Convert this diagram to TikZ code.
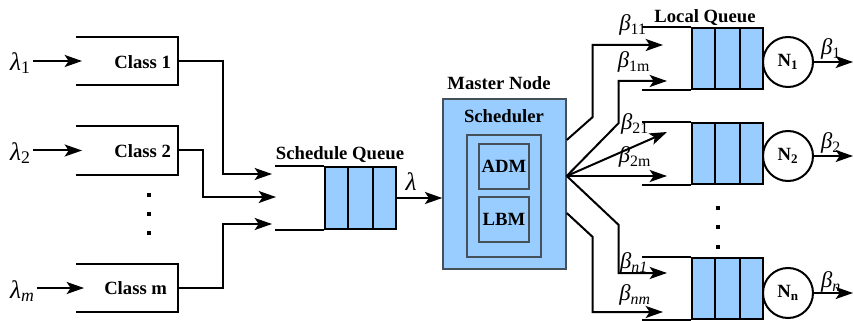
\documentclass[tikz,border=0pt]{standalone}
\usepackage{fontspec}
\setmainfont{Liberation Serif}
\usetikzlibrary{arrows.meta,calc}
\definecolor{qblue}{RGB}{153,204,255}
\definecolor{mframe}{RGB}{70,80,90}
\newcommand{\qdivs}[1]{%
  \draw ($(#1.north west)!1/3!(#1.north east)$) -- ($(#1.south west)!1/3!(#1.south east)$);
  \draw ($(#1.north west)!2/3!(#1.north east)$) -- ($(#1.south west)!2/3!(#1.south east)$);
  \draw (#1.north west) -- ++(-49,0);
  \draw (#1.south west) -- ++(-49,0);}
\begin{document}
\begin{tikzpicture}[x=0.75pt,y=-0.75pt,
  line width=1.5pt,
  arr/.style={-{Stealth[length=13pt,width=9pt,inset=3pt]}},
  lbl/.style={font=\fontsize{14}{16}\selectfont\bfseries, inner sep=0pt},
  cbox/.style={minimum width=75pt, minimum height=34.5pt, inner sep=0pt},
  queue/.style={draw, fill=qblue, minimum width=53.25pt, minimum height=46pt, inner sep=0pt},
  blu/.style={draw=mframe, fill=qblue, line width=1.1pt, inner sep=0pt},
  srv/.style={circle, draw, fill=white, minimum size=37.5pt, inner sep=0pt, font=\fontsize{14}{16}\selectfont\bfseries},
  gk/.style={font=\fontsize{19}{21}\selectfont, inner sep=1pt},
  bk/.style={font=\fontsize{17}{19}\selectfont, inner sep=0pt},
  dot/.style={fill, minimum size=3.5pt, inner sep=0pt}
]
\useasboundingbox (0,0) rectangle (854,321);

% class boxes (open on the left)
\node[cbox] (c1) at (127,61) {};
\node[cbox] (c2) at (127,150.5) {};
\node[cbox] (cm) at (127,288) {};
\foreach \c in {c1,c2,cm}
  \draw (\c.north west) -- (\c.north east) -- (\c.south east) -- (\c.south west);
\node[lbl, anchor=east] (t1) at (172,62) {Class 1};
\node[lbl, anchor=east] (t2) at (172,151) {Class 2};
\node[lbl, anchor=east] (tm) at (168,288) {Class m};

% lambda inputs
\node[gk, anchor=east] (lam1) at (33,63) {\textit{λ}\textsubscript{1}};
\node[gk, anchor=east] (lam2) at (33,153) {\textit{λ}\textsubscript{2}};
\node[gk, anchor=east] (lamm) at (37,291) {\textit{λ}\textsubscript{\textit{m}}};
\draw[arr] (lam1.east |- c1.west) -- ($(c1.west)+(6,0)$);
\draw[arr] (lam2.east |- c2.west) -- ($(c2.west)+(6,0)$);
\draw[arr] (lamm.east |- cm.west) -- ($(cm.west)+(8,0)$);

% dots left
\node[dot] (d1) at (149,195) {};
\node[dot] (d2) at (149,214) {};
\node[dot] (d3) at (149,233) {};

% schedule queue
\node[queue] (sq) at (360.5,198) {};
\qdivs{sq}
\node[lbl] (sqt) at (340,155) {Schedule Queue};
\coordinate (s1) at (272,174);
\coordinate (s2) at (276,197);
\coordinate (s3) at (272,224);
\draw[arr] (c1.east) -| ($(s1)+(-49,0)$) -- (s1);
\draw[arr] (c2.east) -| ($(s2)+(-73,0)$) -- (s2);
\draw[arr] (cm.east) -| ($(s3)+(-49,0)$) -- (s3);

% master node
\node[blu, minimum width=92.25pt, minimum height=127.5pt] (mn) at (504.5,184) {};
\node[lbl] (mnt) at (499,83) {Master Node};
\node[lbl] (sch) at (504,116) {Scheduler};
\node[blu, minimum width=55.5pt, minimum height=91.5pt] (inr) at (504,196) {};
\node[blu, lbl, minimum width=37.5pt, minimum height=33.75pt] (adm) at (504,166.5) {ADM};
\node[blu, lbl, minimum width=37.5pt, minimum height=33.75pt] (lbm) at (504,219.5) {LBM};
\draw[arr] (sq.east) -- (sq.east -| mn.west);
\node[gk] (lam) at (411,182) {\textit{λ}};

% local queues
\node[queue] (q1) at (727.5,58.5) {};
\node[queue] (q2) at (727.5,153.5) {};
\node[queue] (qn) at (727.5,288.5) {};
\qdivs{q1}\qdivs{q2}\qdivs{qn}
\node[lbl] (lqt) at (705,18) {Local Queue};
\node[dot] (e1) at (718,208) {};
\node[dot] (e2) at (718,227) {};
\node[dot] (e3) at (718,247) {};

% servers
\node[srv] (n1) at (788,62) {N\textsubscript{1}};
\node[srv] (n2) at (788,156) {N\textsubscript{2}};
\node[srv] (nn) at (788,293) {N\textsubscript{n}};
\coordinate (o1) at (853,62);
\coordinate (o2) at (853,156);
\coordinate (on) at (853,293);
\draw[arr] (n1.east) -- (o1);
\draw[arr] (n2.east) -- (o2);
\draw[arr] (nn.east) -- (on);
\node[bk] (b1) at (831,49) {\textit{β}\textsubscript{1}};
\node[bk] (b2) at (831,143) {\textit{β}\textsubscript{2}};
\node[bk] (bn) at (831,282) {\textit{β}\textsubscript{\textit{n}}};

% fan-out from the master node
\coordinate (fA) at ([yshift=33pt]mn.east);
\coordinate (fan) at ([yshift=6pt]mn.east);
\coordinate (fF) at ([yshift=-21.75pt]mn.east);
\coordinate (tA) at (663,45);
\coordinate (tB) at (667,81);
\coordinate (tC) at (667,132);
\coordinate (tD) at (667,176);
\coordinate (tE) at (667,273);
\coordinate (tF) at (663,312);
\draw[arr] (fA) -- ++(26,-23) |- (tA);
\draw[arr] (fan) -- ++(52,-53) |- (tB);
\draw[arr] (fan) -- (tC);
\draw[arr] (fan) -- (tD);
\draw[arr] (fan) -- ++(52,49) |- (tE);
\draw[arr] (fF) -- ++(26,24) |- (tF);
\node[bk] (b11) at (633,25) {\textit{β}\textsubscript{11}};
\node[bk] (b1m) at (634,62) {\textit{β}\textsubscript{1m}};
\node[bk] (b21) at (635,124) {\textit{β}\textsubscript{21}};
\node[bk] (b2m) at (635,157) {\textit{β}\textsubscript{2m}};
\node[bk] (bn1) at (634,263) {\textit{β}\textsubscript{\textit{n1}}};
\node[bk] (bnm) at (635,295) {\textit{β}\textsubscript{\textit{nm}}};
\end{tikzpicture}
\end{document}
